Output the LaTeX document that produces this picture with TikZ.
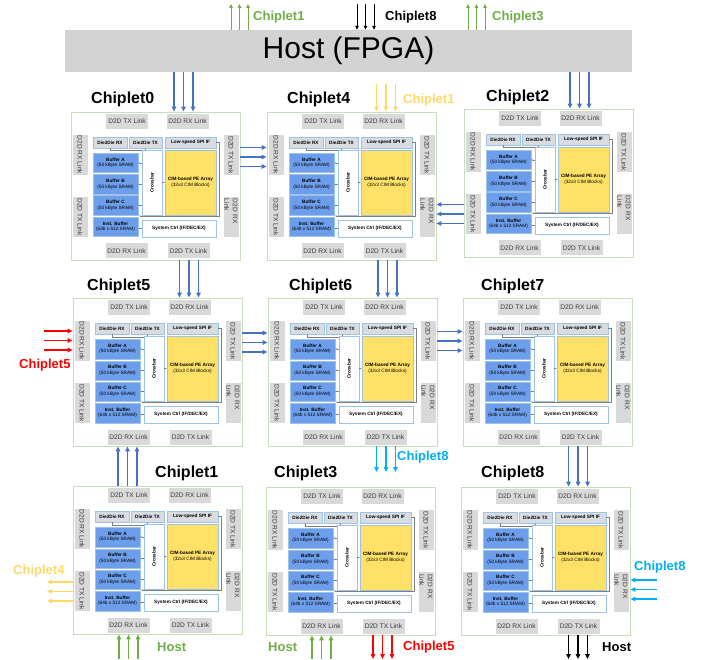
\documentclass[tikz,border=0pt]{standalone}
\usepackage{fontspec}
\setmainfont{Liberation Sans}
\usetikzlibrary{arrows.meta,calc}

\definecolor{hostgray}{HTML}{D3D3D3}
\definecolor{linkgray}{HTML}{D9D9D9}
\definecolor{linktext}{HTML}{383838}
\definecolor{diegreen}{HTML}{C9DDB8}
\definecolor{edgeblue}{HTML}{9DC3E6}
\definecolor{dbgray}{HTML}{D9DCE1}
\definecolor{bufblue}{HTML}{6D9EEB}
\definecolor{peyellow}{HTML}{FFE168}
\definecolor{wiregray}{HTML}{7F7F7F}
\definecolor{arrblue}{HTML}{4472C4}
\definecolor{arrgreen}{HTML}{70AD47}
\definecolor{arryellow}{HTML}{FFD966}
\definecolor{arrred}{HTML}{FF0000}
\definecolor{arrcyan}{HTML}{00B0F0}

\newcommand{\tinyfont}{\fontsize{4.7}{5.5}\selectfont}
\newcommand{\linkfont}{\fontsize{6.6}{8.5}\selectfont}

\tikzset{
  chipbox/.style={draw=diegreen, line width=0.8pt, fill=white,
    minimum width=169pt, minimum height=148pt, inner sep=0pt},
  linkh/.style={fill=linkgray, minimum width=42pt, minimum height=15pt,
    inner sep=0pt, font=\linkfont, text=linktext},
  linkv/.style={linkh, minimum width=40pt, rotate=-90},
  dbox/.style={fill=dbgray, draw=edgeblue, line width=0.5pt,
    minimum height=11pt, inner sep=0pt, font=\tinyfont\bfseries},
  bufbox/.style={fill=bufblue, draw=edgeblue, line width=0.5pt,
    minimum width=45pt, minimum height=19.5pt, inner sep=0pt,
    align=center, font=\tinyfont},
  wbox/.style={fill=white, draw=edgeblue, line width=0.6pt, inner sep=0pt},
  wire/.style={draw=wiregray, line width=0.4pt},
  tinyarr/.style={-{Latex[length=1.6pt,width=1.6pt]}},
  arr/.style={line width=1.4pt, -{Triangle[length=5pt,width=4.5pt]}},
  bluearr/.style={arr, arrblue},
  toparr/.style={line width=0.9pt, -{Triangle[length=4pt,width=3.5pt]}},
  chiplbl/.style={font=\fontsize{16}{18}\selectfont\bfseries, inner sep=0pt, anchor=west},
  sidelbl/.style={font=\fontsize{13}{15}\selectfont\bfseries, inner sep=0pt, anchor=west},
  pics/chiplet/.style={code={
    % die outline
    \node[chipbox] (-box) at (84.5,74) {};
    % D2D links
    \node[linkh] (-tl) at (56,9.5) {D2D TX Link};
    \node[linkh] (-tr) at (116.5,9.5) {D2D RX Link};
    \node[linkh] (-bl) at (55.5,139) {D2D RX Link};
    \node[linkh] (-br) at (117.5,139) {D2D TX Link};
    \node[linkv] (-lt) at (9,43) {D2D RX Link};
    \node[linkv] (-lb) at (9,105) {D2D TX Link};
    \node[linkv] (-rt) at (160,43) {D2D TX Link};
    \node[linkv, text width=36pt, align=left] (-rb) at (160,105) {D2D RX\\Link};
    % core
    \node[dbox, minimum width=34pt] (-drx) at (39,30.5) {Die2Die RX};
    \node[dbox, minimum width=33pt] (-dtx) at (74.5,30.5) {Die2Die TX};
    \node[dbox, minimum width=51pt] (-spi) at (119.5,30.5) {Low-speed SPI IF};
    \node[bufbox] (-bufa) at (44.5,51) {\textbf{Buffer A}\\(50 kByte SRAM)};
    \node[bufbox] (-bufb) at (44.5,72.5) {\textbf{Buffer B}\\(50 kByte SRAM)};
    \node[bufbox] (-bufc) at (44.5,93.5) {\textbf{Buffer C}\\(50 kByte SRAM)};
    \node[bufbox] (-inst) at (44.5,115) {\textbf{Inst. Buffer}\\(64b x 512 SRAM)};
    \node[wbox, minimum width=20pt, minimum height=65pt] (-xbar) at (81,70.5) {};
    \node[rotate=90, inner sep=0pt, font=\tinyfont\bfseries] (-xbartxt) at (-xbar.center) {Crossbar};
    \node[wbox, fill=peyellow, minimum width=51pt, minimum height=65pt,
      align=center, font=\tinyfont] (-pe) at (119.5,70.5)
      {\textbf{CIM-based PE Array}\\(32x3 CIM Blocks)};
    \node[wbox, minimum width=74pt, minimum height=17pt, font=\tinyfont\bfseries]
      (-sys) at (108,116.5) {System Ctrl (IF/DEC/EX)};
    % internal wires
    \draw[wire] (-drx.south) |- ([yshift=-1pt]-xbar.north west);
    \draw[wire, tinyarr] (-dtx.south |- -xbar.north) -- (-dtx.south);
    \draw[wire, tinyarr] (-spi.east) -- ++(3,0) |- (68,104);
    \draw[wire, tinyarr] (-xbar.south |- 0,104) -- (-xbar.south);
    \foreach \b in {bufa,bufb,bufc}
      \draw[wire, tinyarr] (-xbar.west |- -\b) -- (-\b.east);
    \draw[wire, tinyarr] (-xbar.east |- -pe) -- (-pe.west);
    \draw[wire, tinyarr] (-sys.west) -- (-inst.east |- -sys.west);
  }}
}

\begin{document}
\begin{tikzpicture}[x=1pt, y=-1pt]
  \useasboundingbox (0,0) rectangle (704,660);

  % host
  \node[fill=hostgray, minimum width=567pt, minimum height=42pt, inner sep=0pt,
    font=\fontsize{30}{32}\selectfont] (host) at (348.5,51) {Host (FPGA)};

  % chiplets
  \pic (c0) at (71,112) {chiplet};
  \pic (c4) at (267,112) {chiplet};
  \pic (c2) at (464,109) {chiplet};
  \pic (c5) at (73,298) {chiplet};
  \pic (c6) at (268,298) {chiplet};
  \pic (c7) at (463,298) {chiplet};
  \pic (c1) at (73,486) {chiplet};
  \pic (c3) at (266,487) {chiplet};
  \pic (c8) at (461,487) {chiplet};

  \node[chiplbl] (l0) at (91,99) {Chiplet0};
  \node[chiplbl] (l4) at (287,99) {Chiplet4};
  \node[chiplbl] (l2) at (486,97) {Chiplet2};
  \node[chiplbl] (l5) at (87,286) {Chiplet5};
  \node[chiplbl] (l6) at (289,286) {Chiplet6};
  \node[chiplbl] (l7) at (481,286) {Chiplet7};
  \node[chiplbl] (l1) at (155,473) {Chiplet1};
  \node[chiplbl] (l3) at (274,473) {Chiplet3};
  \node[chiplbl] (l8) at (481,473) {Chiplet8};

  % host ports
  \coordinate (top) at (0,4);
  \foreach \x in {231,239.5,248} \draw[toparr, arrgreen] (\x,0 |- host.north) -- (\x,0 |- top);
  \foreach \x in {357,365.5,374} \draw[toparr, black] (\x,0 |- top) -- (\x,0 |- host.north);
  \foreach \x in {468,476.5,485} \draw[toparr, arrgreen] (\x,0 |- host.north) -- (\x,0 |- top);
  \node[sidelbl, arrgreen] (t1) at (253,17) {Chiplet1};
  \node[sidelbl, black] (t8) at (385,17) {Chiplet8};
  \node[sidelbl, arrgreen] (t3) at (492,17) {Chiplet3};

  % host -> chiplet0 / chiplet2
  \foreach \x in {174,183.5,193} \draw[bluearr] (\x,0 |- host.south) -- (\x,0 |- c0-box.north);
  \foreach \x in {570,579.5,589} \draw[bluearr] (\x,0 |- host.south) -- (\x,0 |- c2-box.north);

  % into chiplet4 from chiplet1
  \coordinate (c4src) at (0,84);
  \foreach \x in {376.5,386,395.5} \draw[arr, arryellow] (\x,0 |- c4src) -- (\x,0 |- c4-box.north);
  \node[sidelbl, arryellow] (y1) at (403,100) {Chiplet1};

  % row 1 links
  \foreach \y in {147.5,157,166.5} \draw[bluearr] (c0-box.east |- 0,\y) -- (c4-box.west |- 0,\y);
  \foreach \y in {204.5,214,223.5} \draw[bluearr] (c2-box.west |- 0,\y) -- (c4-box.east |- 0,\y);

  % row 1 -> row 2
  \foreach \x in {179.5,189,198.5} \draw[bluearr] (\x,0 |- c0-box.south) -- (\x,0 |- c5-box.north);
  \foreach \x in {378,387.5,397} \draw[bluearr] (\x,0 |- c4-box.south) -- (\x,0 |- c6-box.north);

  % row 2 links
  \foreach \y in {333,342.5,352} \draw[bluearr] (c5-box.east |- 0,\y) -- (c6-box.west |- 0,\y);
  \foreach \y in {331.5,341,350.5} \draw[bluearr] (c6-box.east |- 0,\y) -- (c7-box.west |- 0,\y);

  % into chiplet5 from chiplet5
  \coordinate (c5src) at (44,0);
  \foreach \y in {331,340.5,350} \draw[arr, arrred] (c5src |- 0,\y) -- (c5-box.west |- 0,\y);
  \node[sidelbl, arrred] (r5) at (19,365) {Chiplet5};

  % chiplet6 out to chiplet8
  \coordinate (c6dst) at (0,472);
  \foreach \x in {376.5,386,395.5} \draw[arr, arrcyan] (\x,0 |- c6-box.south) -- (\x,0 |- c6dst);
  \node[sidelbl, arrcyan] (b8) at (397,457) {Chiplet8};

  % row 2 <-> row 3
  \foreach \x in {568.5,578,587.5} \draw[bluearr] (\x,0 |- c7-box.south) -- (\x,0 |- c8-box.north);
  \foreach \x in {118,127.5,137} \draw[bluearr] (\x,0 |- c1-box.north) -- (\x,0 |- c5-box.south);

  % chiplet1 out to chiplet4
  \coordinate (c1dst) at (47,0);
  \foreach \y in {582,591.5,601} \draw[arr, arryellow] (c1-box.west |- 0,\y) -- (c1dst |- 0,\y);
  \node[sidelbl, arryellow] (y4) at (13,571) {Chiplet4};

  % chiplet8 in from chiplet6
  \coordinate (c8src) at (657,0);
  \foreach \y in {580,589.5,599} \draw[arr, arrcyan] (c8src |- 0,\y) -- (c8-box.east |- 0,\y);
  \node[sidelbl, arrcyan] (r8) at (634,567) {Chiplet8};

  % bottom ports
  \coordinate (bot) at (0,659);
  \foreach \x in {119,128.5,138} \draw[arr, arrgreen] (\x,0 |- bot) -- (\x,0 |- c1-box.south);
  \foreach \x in {312,321.5,331} \draw[arr, arrgreen] (\x,0 |- bot) -- (\x,0 |- c3-box.south);
  \foreach \x in {373,382.5,392} \draw[arr, arrred] (\x,0 |- c3-box.south) -- (\x,0 |- bot);
  \foreach \x in {568.5,578,587.5} \draw[arr, black] (\x,0 |- c8-box.south) -- (\x,0 |- bot);
  \node[sidelbl, arrgreen] (h1) at (157,647) {Host};
  \node[sidelbl, arrgreen] (h3) at (268,647) {Host};
  \node[sidelbl, arrred] (r3) at (403,647) {Chiplet5};
  \node[sidelbl, black] (h8) at (602,647) {Host};
\end{tikzpicture}
\end{document}
